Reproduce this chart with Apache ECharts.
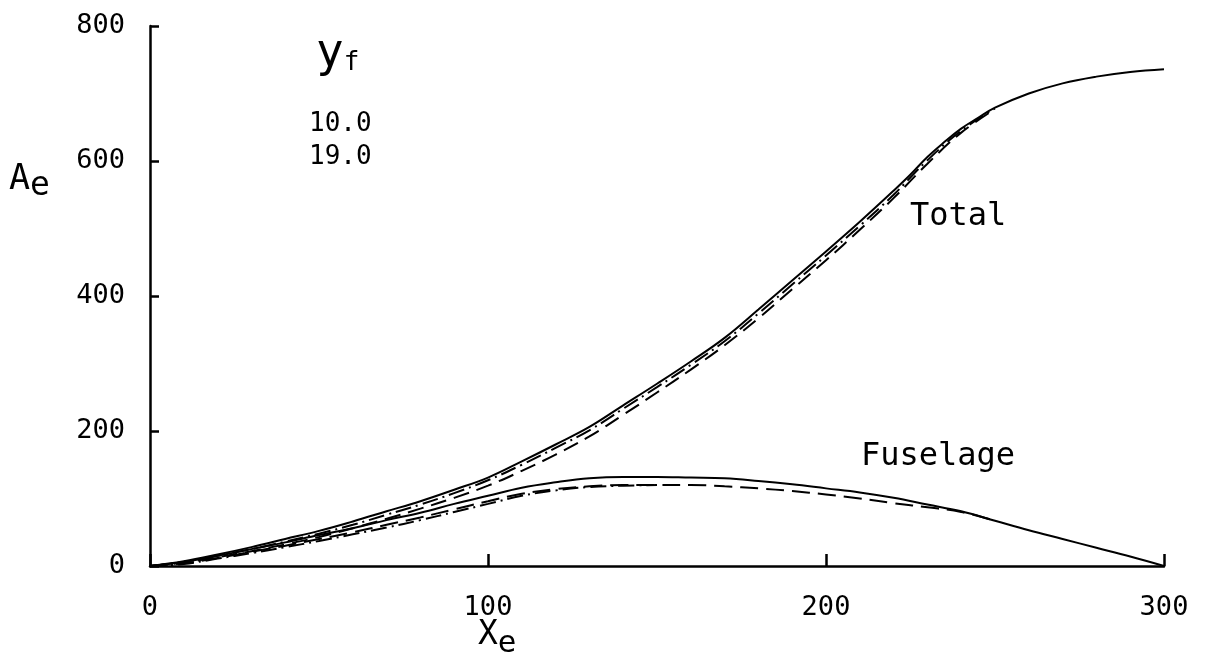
<!DOCTYPE html>
<html>
<head>
<meta charset="utf-8">
<script src="https://cdn.jsdelivr.net/npm/echarts@6/dist/echarts.min.js"></script>
<style>html,body{margin:0;padding:0;background:#fff}#c{width:1211px;height:665px}</style>
</head>
<body>
<div id="c"></div>
<script>
// x positions (x_e)
const xsTotal = [0,10,20,30,40,50,60,70,80,90,100,110,120,130,140,150,160,170,180,190,200,210,220,225,230,235,240,245,250,260,270,280,290,300];
// Total, solid
const totalSolid = [0,7,17,28,40,52,66,81,96,113,131,155,180,206,238,270,303,338,380,423,466,510,556,580,606,628,648,664,679,700,715,725,732,736];
// Total, dash-dot
const xsTotalDD = [0,10,20,30,40,50,60,70,80,90,100,110,120,130,140,150,160,170,180,190,200,210,220,230,240,250];
const totalDashDot = [0,6,15,25,36,48,61,76,91,108,127,150,175,201,233,265,298,333,374,417,460,504,550,601,645,678];
// Total, dashed
const xsTotalD = [0,10,20,30,40,50,60,70,80,90,100,110,120,130,140,150,160,170,180,190,200,210,220,230,240,250];
const totalDashed = [0,5,13,22,32,43,56,70,85,101,119,141,165,192,224,257,291,327,367,410,453,498,545,596,642,677];

// Fuselage
const xsFus = [0,10,20,30,40,50,60,70,80,90,100,110,120,130,140,150,160,170,180,190,200,210,220,230,240,250,260,270,280,290,300];
const fusSolid = [0,6,15,25,35,46,56,68,79,92,104,116,124,130,132,132,131,130,126,121,115,109,101,91,81,67,53,40,27,14,0];
const xsFusD = [0,10,20,30,40,50,60,70,80,90,100,110,120,130,140,150,160,170,180,190,200,210,220,230,240,250];
const fusDashed = [0,4,12,21,30,40,50,61,72,84,96,107,114,118,120,120,120,118,115,111,106,100,93,87,80,67];
const xsFusDD = [0,10,20,30,40,50,60,70,80,90,100,110,120,130,140,150];
const fusDashDot = [0,3,11,19,28,37,47,57,68,80,92,104,112,117,119,120];

const xTicks = [0,100,200,300];
const yTicks = [0,200,400,600,800];
const legendValues = ['10.0','19.0'];

const pairs = (xs, ys) => xs.map((x,i)=>[x, ys[i]]);
const FONT = 'DejaVu Sans Mono';
const line = (name, xs, ys, type) => ({
  name, type:'line', data: pairs(xs, ys), smooth: 0.4, symbol:'none',
  lineStyle:{color:'#000', width:2, type: type}, z: 3
});

const chart = echarts.init(document.getElementById('c'), null, {renderer:'canvas'});
chart.setOption({
  animation:false,
  backgroundColor:'#fff',
  grid:{left:150, right:47, top:26, bottom:99},
  xAxis:{type:'value', min:0, max:300, interval:100,
    axisLine:{show:true, lineStyle:{color:'#000', width:2.5}},
    axisTick:{show:true, inside:true, length:12, lineStyle:{color:'#000', width:2.5}},
    splitLine:{show:false},
    axisLabel:{color:'#000', fontFamily:FONT, fontSize:27, margin:28,
      formatter: v => xTicks.includes(v) ? String(v) : ''}
  },
  yAxis:{type:'value', min:0, max:800, interval:200,
    axisLine:{show:true, lineStyle:{color:'#000', width:2.5}},
    axisTick:{show:true, inside:true, length:9, lineStyle:{color:'#000', width:2.5}},
    splitLine:{show:false},
    axisLabel:{color:'#000', fontFamily:FONT, fontSize:27, margin:25,
      formatter: v => yTicks.includes(v) ? String(v) : ''}
  },
  series:[
    line('Total y_f 10.0', xsTotal, totalSolid, 'solid'),
    line('Total y_f 19.0', xsTotalD, totalDashed, [16,8]),
    line('Total', xsTotalDD, totalDashDot, [16,5,2,5]),
    line('Fuselage y_f 10.0', xsFus, fusSolid, 'solid'),
    line('Fuselage y_f 19.0', xsFusD, fusDashed, [18,8]),
    line('Fuselage', xsFusDD, fusDashDot, [16,5,2,5])
  ],
  graphic:[
    {type:'text', left:9, top:162, style:{
      text:'{b|A}{s|e}', rich:{b:{fontFamily:FONT, fontSize:35, fill:'#000'}, s:{fontFamily:FONT, fontSize:33, fill:'#000', padding:[14,0,0,0]}}}},
    {type:'text', left:478, top:619, style:{
      text:'{b|X}{s|e}', rich:{b:{fontFamily:FONT, fontSize:33, fill:'#000'}, s:{fontFamily:FONT, fontSize:31, fill:'#000', padding:[16,0,0,0]}}}},
    {type:'text', left:316, top:31, style:{
      text:'{b|y}{s|f}', rich:{b:{fontFamily:FONT, fontSize:46, fill:'#000'}, s:{fontFamily:FONT, fontSize:26, fill:'#000', padding:[18,0,0,0]}}}},
    {type:'text', left:309, top:111, style:{text:legendValues[0], fontFamily:FONT, fontSize:26, fill:'#000'}},
    {type:'text', left:309, top:144, style:{text:legendValues[1], fontFamily:FONT, fontSize:26, fill:'#000'}},
    {type:'text', left:910, top:201, style:{text:'Total', fontFamily:FONT, fontSize:32, fill:'#000'}},
    {type:'text', left:861, top:441, style:{text:'Fuselage', fontFamily:FONT, fontSize:32, fill:'#000'}}
  ]
});
</script>
</body>
</html>
